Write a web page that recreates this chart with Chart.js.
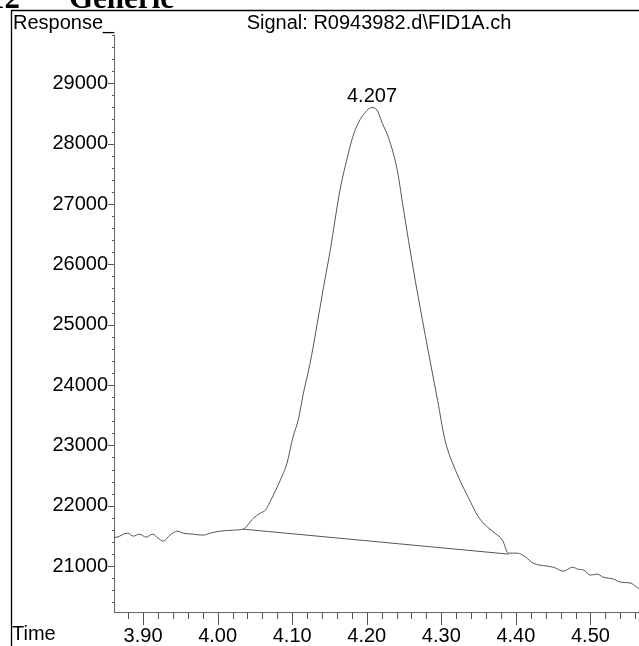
<!DOCTYPE html>
<html>
<head>
<meta charset="utf-8">
<script src="https://cdn.jsdelivr.net/npm/chart.js@4.4.0/dist/chart.umd.min.js"></script>
<style>
  html, body { margin: 0; padding: 0; background: #fff; overflow: hidden; }
  #chart { position: absolute; left: 0; top: 0; }
</style>
</head>
<body>
<canvas id="chart" width="680" height="646"></canvas>
<script>
// Signal trace (time in min, response)
const times = [
  3.855, 3.865, 3.879, 3.887, 3.895, 3.904, 3.913, 3.920, 3.927, 3.936, 3.946, 3.954,
  3.967, 3.981, 3.990, 4.003, 4.021, 4.034, 4.048, 4.057, 4.064, 4.070, 4.084, 4.093,
  4.101, 4.108, 4.115, 4.124, 4.132, 4.142, 4.151, 4.164, 4.174, 4.181, 4.189, 4.198,
  4.207, 4.214, 4.221, 4.229, 4.241, 4.248, 4.256, 4.265, 4.274, 4.283, 4.295, 4.305,
  4.319, 4.336, 4.350, 4.362, 4.372, 4.382, 4.390, 4.402, 4.413, 4.423, 4.442, 4.450,
  4.464, 4.476, 4.483, 4.491, 4.500, 4.509, 4.517, 4.531, 4.540, 4.554, 4.564, 4.575
];
const response = [
  21470, 21480, 21546, 21497, 21530, 21480, 21530, 21464, 21414, 21513, 21579, 21546,
  21530, 21513, 21546, 21579, 21596, 21613, 21795, 21877, 21927, 22060, 22424, 22705,
  23136, 23417, 23864, 24361, 24907, 25619, 26232, 27225, 27771, 28103, 28351, 28517,
  28599, 28550, 28334, 28103, 27556, 27010, 26397, 25735, 25122, 24526, 23748, 23086,
  22589, 22142, 21811, 21646, 21546, 21430, 21215, 21215, 21149, 21050, 21000, 20983,
  20917, 20983, 20950, 20934, 20851, 20868, 20818, 20785, 20735, 20719, 20636, 20600
];

// Integration baseline
const baseTimes = [4.034, 4.390];
const baseResponse = [21613, 21199];

// Peak annotation
const peakTime = 4.207;
const peakResponse = 28599;
const peakLabel = '4.207';

// Axes
const xTicks = [3.9, 4.0, 4.1, 4.2, 4.3, 4.4, 4.5];
const yTicks = [21000, 22000, 23000, 24000, 25000, 26000, 27000, 28000, 29000];
const xMin = 3.861, xMax = 4.600;
const yMin = 20240, yMax = 29800;

const FONT = '"Liberation Sans", Arial, sans-serif';

const decorations = {
  id: 'decorations',
  beforeDraw(chart) {
    const c = chart.ctx;
    c.save();
    c.fillStyle = '#fff';
    c.fillRect(0, 0, chart.width, chart.height);
    c.restore();
  },
  afterDraw(chart) {
    const c = chart.ctx;
    const xs = chart.scales.x, ys = chart.scales.y;
    c.save();

    // outer frame
    c.strokeStyle = '#000';
    c.lineWidth = 1.3;
    c.beginPath();
    c.moveTo(11.5, 700);
    c.lineTo(11.5, 10.5);
    c.lineTo(700, 10.5);
    c.stroke();

    // cropped header text
    c.fillStyle = '#000';
    c.font = 'bold 31px "Liberation Serif", "DejaVu Serif", serif';
    c.textBaseline = 'alphabetic';
    c.textAlign = 'left';
    c.fillText('12', -11, 8);
    c.fillText('Generic', 69, 8);

    // texts
    c.font = '20px ' + FONT;
    c.textBaseline = 'middle';
    c.fillText('Response_', 13, 23);
    c.fillText('Time', 12, 634);
    c.textAlign = 'center';
    c.fillText('Signal: R0943982.d\\FID1A.ch', 379, 23);
    c.textBaseline = 'alphabetic';
    c.fillText(peakLabel, xs.getPixelForValue(peakTime), ys.getPixelForValue(peakResponse) - 5);

    // tick marks
    c.strokeStyle = '#555';
    c.lineWidth = 1;
    const axY = chart.chartArea.bottom, axX = chart.chartArea.left;
    c.beginPath();
    for (let i = 194; i <= 230; i++) {
      const v = i / 50;
      const px = Math.round(xs.getPixelForValue(v)) + 0.5;
      if (px < axX || px > chart.width) continue;
      const len = (i % 5 === 0) ? 13 : 7;
      c.moveTo(px, axY);
      c.lineTo(px, axY + len);
    }
    for (let v = 20400; v <= 29800; v += 200) {
      const py = Math.round(ys.getPixelForValue(v)) + 0.5;
      const len = (v % 1000 === 0) ? 6 : 2;
      c.moveTo(axX - len, py);
      c.lineTo(axX, py);
    }
    c.stroke();
    c.restore();
  }
};

new Chart(document.getElementById('chart').getContext('2d'), {
  type: 'scatter',
  data: {
    datasets: [
      {
        label: 'Signal',
        data: times.map((t, i) => ({ x: t, y: response[i] })),
        showLine: true,
        borderColor: '#555',
        borderWidth: 1,
        pointRadius: 0,
        cubicInterpolationMode: 'monotone',
      },
      {
        label: 'Baseline',
        data: baseTimes.map((t, i) => ({ x: t, y: baseResponse[i] })),
        showLine: true,
        borderColor: '#555',
        borderWidth: 1,
        pointRadius: 0,
      },
    ],
  },
  options: {
    responsive: false,
    animation: false,
    layout: { padding: { top: 35, right: 15, left: 0, bottom: 0 } },
    plugins: { legend: { display: false }, tooltip: { enabled: false } },
    scales: {
      x: {
        type: 'linear',
        min: xMin,
        max: xMax,
        afterBuildTicks: (scale) => { scale.ticks = xTicks.map(v => ({ value: v })); },
        afterFit: (scale) => { scale.height = 34; },
        grid: { display: false, drawTicks: false },
        border: { display: true, color: '#666', width: 1 },
        ticks: {
          padding: 12,
          maxRotation: 0,
          autoSkip: false,
          color: '#000',
          font: { family: FONT, size: 20 },
          callback: (v) => Number(v).toFixed(2),
        },
      },
      y: {
        type: 'linear',
        min: yMin,
        max: yMax,
        afterBuildTicks: (scale) => { scale.ticks = yTicks.map(v => ({ value: v })); },
        afterFit: (scale) => { scale.width = 114; },
        grid: { display: false, drawTicks: false },
        border: { display: true, color: '#666', width: 1 },
        ticks: {
          padding: 6,
          autoSkip: false,
          color: '#000',
          font: { family: FONT, size: 20 },
          callback: (v) => String(v),
        },
      },
    },
  },
  plugins: [decorations],
});
</script>
</body>
</html>
